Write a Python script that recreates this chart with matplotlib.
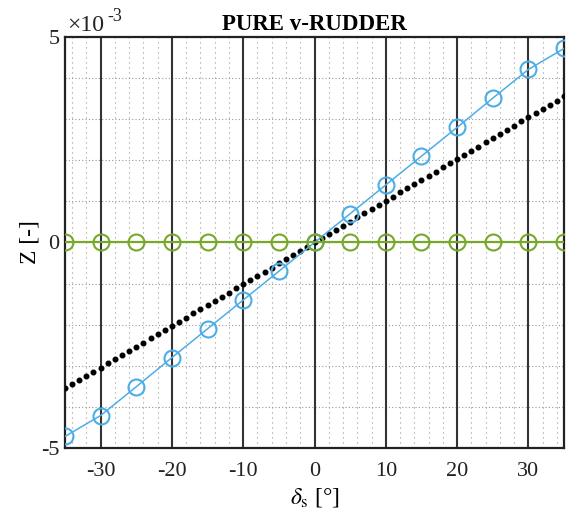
import matplotlib.pyplot as plt
import numpy as np

# data
delta_coarse = [-35, -30, -25, -20, -15, -10, -5, 0, 5, 10, 15, 20, 25, 30, 35]
z_blue = [-4.72, -4.21, -3.51, -2.80, -2.10, -1.40, -0.70, 0.0,
          0.70, 1.40, 2.10, 2.80, 3.51, 4.21, 4.72]
z_green = [0.0] * 15
delta_fine = list(range(-35, 36))
z_black_slope = 1.015e-4  # -3.55e-3 at -35, 3.55e-3 at 35
z_black = [z_black_slope * d for d in delta_fine]

plt.rcParams['font.family'] = ['Liberation Serif', 'DejaVu Serif']
plt.rcParams['mathtext.fontset'] = 'stix'
plt.rcParams['axes.unicode_minus'] = False

fig = plt.figure(figsize=(5.71, 5.17), dpi=100)
ax = fig.add_axes([0.1138, 0.1335, 0.874, 0.795])

# minor dotted grid
for x in np.arange(-34, 35, 2):
    ax.axvline(x, color='#999999', lw=0.8, ls=(0, (1, 3.5)), zorder=0)
for y in np.arange(-4, 5, 1):
    ax.axhline(y * 1e-3, color='#999999', lw=0.8, ls=(0, (1, 2)), zorder=0)
# solid lines at the major x ticks
for x in [-30, -20, -10, 0, 10, 20, 30]:
    ax.axvline(x, color='#333333', lw=1.5, zorder=1)

ax.plot(delta_fine, z_black, 'o', color='black', ms=3.3, zorder=3)
ax.plot(delta_coarse, np.array(z_blue) * 1e-3, '-o', color='#4DADE6', lw=1.1,
        ms=11.5, mfc='none', mew=1.5, zorder=4)
ax.plot(delta_coarse, z_green, '-o', color='#77A82A', lw=1.6,
        ms=11.5, mfc='none', mew=1.5, zorder=4)

ax.set_xlim(-35, 35)
ax.set_ylim(-5e-3, 5e-3)
ax.set_xticks([-30, -20, -10, 0, 10, 20, 30])
ax.set_yticks([-5e-3, 0, 5e-3])
ax.set_yticklabels(['-5', '0', '5'])
ax.tick_params(direction='in', labelsize=16, length=0, pad=10, colors='#222222')
ax.tick_params(axis='y', pad=4)
for s in ax.spines.values():
    s.set_linewidth(1.6)
    s.set_color('#222222')

# exponent label, as MATLAB draws it
ax.text(0.005, 1.003, '×10', transform=ax.transAxes, fontsize=17,
        ha='left', va='bottom', color='#222222')
ax.text(0.085, 1.028, '-3', transform=ax.transAxes, fontsize=13,
        ha='left', va='bottom', color='#222222')
ax.set_title('PURE v-RUDDER', fontsize=16.5, fontweight='bold', pad=5)
ax.set_xlabel(r'$\delta_\mathrm{s}$ [°]', fontsize=17, labelpad=4)
ax.set_ylabel('Z [-]', fontsize=17, labelpad=0)

fig.savefig('out.png', dpi=100)
